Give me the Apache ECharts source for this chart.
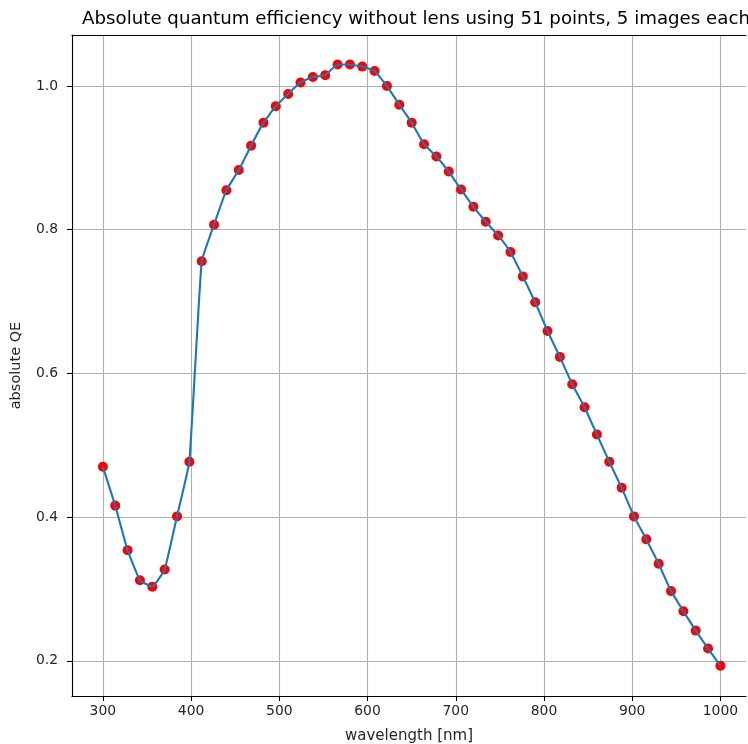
<!DOCTYPE html>
<html>
<head>
<meta charset="utf-8">
<script src="https://cdn.jsdelivr.net/npm/echarts@6/dist/echarts.min.js"></script>
<style>
html,body{margin:0;padding:0;background:#fff;}
#chart{width:748px;height:744px;}
</style>
</head>
<body>
<div id="chart"></div>
<script>
// wavelengths: 51 points from 300 to 1000 nm
const wavelengths = [300,314,328,342,356,370,384,398,412,426,440,454,468,482,496,510,524,538,552,566,580,594,608,622,636,650,664,678,692,706,720,734,748,762,776,790,804,818,832,846,860,874,888,902,916,930,944,958,972,986,1000];
const qeValues = [0.470,0.416,0.354,0.312,0.303,0.327,0.401,0.477,0.756,0.807,0.855,0.883,0.917,0.949,0.972,0.989,1.005,1.0125,1.015,1.030,1.030,1.027,1.021,1.000,0.974,0.949,0.919,0.902,0.881,0.856,0.832,0.811,0.792,0.769,0.735,0.699,0.659,0.623,0.585,0.553,0.515,0.477,0.441,0.401,0.369,0.335,0.297,0.269,0.242,0.217,0.193];
const xTicks = [300,400,500,600,700,800,900,1000];
const yTicks = [0.2,0.4,0.6,0.8,1.0];
const titleText = 'Absolute quantum efficiency without lens using 51 points, 5 images each';

const pts = wavelengths.map((w,i)=>[w,qeValues[i]]);
const font = 'DejaVu Sans';
const chart = echarts.init(document.getElementById('chart'), null, {renderer:'canvas'});
chart.setOption({
  animation:false,
  backgroundColor:'#fff',
  title:{
    text:titleText, left:411, textAlign:'center', top:5,
    textStyle:{fontFamily:font, fontSize:18.2, fontWeight:'normal', color:'#000'}
  },
  grid:{left:72, right:2, top:35, bottom:48, show:false, outerBoundsMode:'none', containLabel:false},
  xAxis:[{
    type:'value', min:265, max:1029,
    name:'wavelength [nm]', nameLocation:'middle', nameGap:33,
    nameTextStyle:{fontFamily:font, fontSize:15, color:'#262626'},
    axisLine:{show:true, onZero:false, lineStyle:{color:'#000', width:1.1}},
    axisTick:{show:true, length:5, customValues:xTicks, lineStyle:{color:'#000', width:1.1}},
    axisLabel:{customValues:xTicks, margin:8, fontFamily:font, fontSize:13.9, color:'#262626',
      formatter:(v)=>String(v)},
    splitLine:{show:true, lineStyle:{color:'#b0b0b0', width:1.1}}
  },{
    type:'value', position:'top', min:265, max:1029,
    axisLine:{show:true, onZero:false, lineStyle:{color:'#000', width:1.1}},
    axisTick:{show:false}, axisLabel:{show:false}, splitLine:{show:false}
  }],
  yAxis:{
    type:'value', min:0.151, max:1.071,
    name:'absolute QE', nameLocation:'middle', nameGap:48, nameRotate:90,
    nameTextStyle:{fontFamily:font, fontSize:14.5, color:'#262626'},
    axisLine:{show:true, onZero:false, lineStyle:{color:'#000', width:1.1}},
    axisTick:{show:true, length:5, customValues:yTicks, lineStyle:{color:'#000', width:1.1}},
    axisLabel:{customValues:yTicks, margin:14, fontFamily:font, fontSize:13.9, color:'#262626',
      formatter:(v)=>v.toFixed(1)},
    splitLine:{show:true, lineStyle:{color:'#b0b0b0', width:1.1}}
  },
  series:[
    {type:'scatter', data:pts, symbolSize:10, itemStyle:{color:'#ff0000', opacity:1}, z:2},
    {type:'line', data:pts, smooth:0.1, showSymbol:false, lineStyle:{color:'#1f77b4', width:2.1}, z:3}
  ]
});
</script>
</body>
</html>
